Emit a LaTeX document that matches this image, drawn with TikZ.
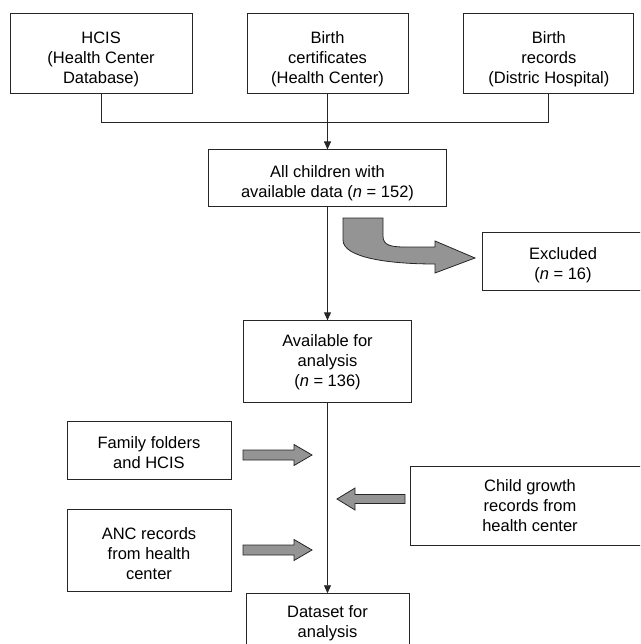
\documentclass[tikz,border=0pt]{standalone}
\usepackage{fontspec}
\setmainfont{Liberation Sans}
\usetikzlibrary{arrows.meta, positioning}

\begin{document}
\begin{tikzpicture}[x=1pt, y=-1pt,
    box/.style={draw=black!85, line width=0.9pt, align=center, inner sep=0pt, font=\fontsize{16.5}{20}\selectfont},
    src/.style={box, minimum height=80pt},
    flow/.style={draw=black!85, line width=0.9pt, -{Triangle[length=8pt, width=7pt]}},
    joint/.style={draw=black!85, line width=0.9pt},
    block/.style={draw=black!85, line width=0.8pt, fill=black!42}]

\clip (0,0) rectangle (640,644);

% Sources (top row)
\node[src, minimum width=161pt] (cert) at (327.5,53) {\rule{0pt}{24pt}Birth\\certificates\\(Health Center)};
\node[src, minimum width=182pt, left=54pt of cert] (hcis) {\rule{0pt}{24pt}HCIS\\(Health Center\\Database)};
\node[src, minimum width=170pt, right=55pt of cert] (brec) {\rule{0pt}{24pt}Birth\\records\\(Distric Hospital)};

% Main column
\node[box, minimum width=238pt, minimum height=57pt, below=56pt of cert] (all) {\rule{0pt}{22pt}All children with\\available data (\textit{n} = 152)};
\node[box, minimum width=168pt, minimum height=82pt, below=113pt of all] (avail) {Available for\\analysis\\(\textit{n} = 136)};
\node[box, minimum width=163pt, minimum height=60pt, below=190pt of avail] (data) {Dataset for\\analysis};

% Side boxes
\node[box, minimum width=162pt, minimum height=58pt] (excl) at (563,261) {\rule{0pt}{20pt}Excluded\\(\textit{n} = 16)};
\node[box, minimum width=164pt, minimum height=58pt] (fam) at (149,450) {\rule{0pt}{18pt}Family folders\\and HCIS};
\node[box, minimum width=164pt, minimum height=82pt, below=30pt of fam] (anc) {\rule{0pt}{18pt}ANC records\\from health\\center};
\node[box, minimum width=240pt, minimum height=79pt] (child) at (530,505.5) {Child growth\\records from\\health center};

% Connectors
\draw[joint] (hcis.south) -- ++(0,29) -| (brec.south);
\draw[flow] (cert.south) -- (all.north);
\draw[flow] (all.south) -- (avail.north);
\draw[flow] (avail.south) -- (data.north);

% Block arrows
\draw[block] (343,218) -- (383,218) -- (383,236) .. controls (383,245) and (390,247) .. (405,247) -- (435,247) -- (435,241) -- (475,258) -- (435,273) -- (435,264) .. controls (390,264) and (343,258) .. (343,240) -- cycle;
\draw[block] (243,450) -- (294,450) -- (294,444.5) -- (312,455) -- (294,465.5) -- (294,460) -- (243,460) -- cycle;
\draw[block] (243,545) -- (294,545) -- (294,539.5) -- (312,550) -- (294,560.5) -- (294,555) -- (243,555) -- cycle;
\draw[block] (405,494.5) -- (355,494.5) -- (355,488) -- (337,499) -- (355,510) -- (355,503.5) -- (405,503.5) -- cycle;
\end{tikzpicture}
\end{document}
